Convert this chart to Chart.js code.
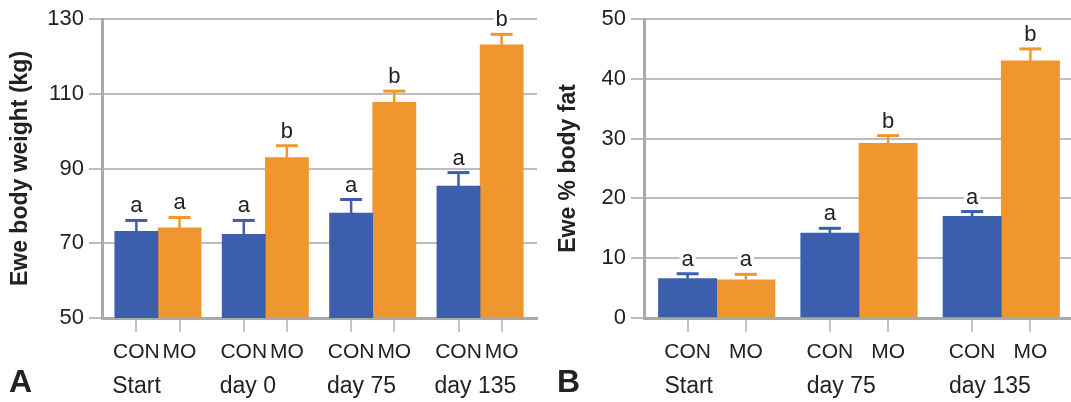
<!DOCTYPE html>
<html>
<head>
<meta charset="utf-8">
<script src="https://cdn.jsdelivr.net/npm/chart.js@4.4.1/dist/chart.umd.min.js"></script>
<style>
  html, body { margin: 0; padding: 0; background: #fff; }
  #wrap { position: relative; width: 1071px; height: 402px; }
  .panel { position: absolute; top: 0; height: 402px; }
</style>
</head>
<body>
<div id="wrap">
  <div class="panel" style="left:0;width:540px"><canvas id="chartA"></canvas></div>
  <div class="panel" style="left:540px;width:531px"><canvas id="chartB"></canvas></div>
</div>
<script>
// panel A - body weight
const treatments = ["CON", "MO"];
const groupsA = ["Start", "day 0", "day 75", "day 135"];
const conWeight = [73.2, 72.4, 78.1, 85.3];
const conWeightErr = [2.9, 3.7, 3.6, 3.6];
const moWeight = [74.1, 92.9, 107.7, 123.1];
const moWeightErr = [2.8, 3.2, 3.0, 2.8];
const conWeightSig = ["a", "a", "a", "a"];
const moWeightSig = ["a", "b", "b", "b"];
const weightTicks = [50, 70, 90, 110, 130];

// panel B - body fat
const groupsB = ["Start", "day 75", "day 135"];
const conFat = [6.6, 14.2, 17.0];
const conFatErr = [0.8, 0.8, 0.8];
const moFat = [6.4, 29.2, 43.0];
const moFatErr = [0.9, 1.3, 2.0];
const conFatSig = ["a", "a", "a"];
const moFatSig = ["a", "b", "b"];
const fatTicks = [0, 10, 20, 30, 40, 50];

const BLUE = "#3b5fad";
const ORANGE = "#f0962f";
const FONT = '"Liberation Sans", Arial, Helvetica, sans-serif';
Chart.defaults.font.family = FONT;
Chart.defaults.color = "#222";

const errorBars = {
    id: "errorBars",
    afterDatasetsDraw(chart) {
        const ctx = chart.ctx, y = chart.scales.y;
        ctx.save();
        chart.data.datasets.forEach((ds, d) => {
            chart.getDatasetMeta(d).data.forEach((bar, i) => {
                const top = y.getPixelForValue(ds.data[i].y + ds.err[i]);
                ctx.strokeStyle = ds.backgroundColor;
                ctx.lineWidth = 2.5;
                ctx.beginPath();
                ctx.moveTo(bar.x, bar.y);
                ctx.lineTo(bar.x, top);
                ctx.stroke();
                ctx.lineWidth = 3;
                ctx.beginPath();
                ctx.moveTo(bar.x - 11, top);
                ctx.lineTo(bar.x + 11, top);
                ctx.stroke();
                // significance letter, knocked out of the gridlines
                ctx.font = "22px " + FONT;
                const w = ctx.measureText(ds.sig[i]).width;
                ctx.fillStyle = "#fff";
                ctx.fillRect(bar.x - w / 2 - 2, top - 25, w + 4, 18);
                ctx.fillStyle = "#222";
                ctx.textAlign = "center";
                ctx.textBaseline = "alphabetic";
                ctx.fillText(ds.sig[i], bar.x, top - 8);
            });
        });
        ctx.restore();
    }
};

const groupLabels = {
    id: "groupLabels",
    afterDraw(chart, args, opts) {
        const ctx = chart.ctx, x = chart.scales.x;
        ctx.save();
        ctx.fillStyle = "#222";
        ctx.textAlign = "left";
        ctx.textBaseline = "alphabetic";
        ctx.font = "23px " + FONT;
        opts.labels.forEach((g, i) => {
            ctx.fillText(g, x.getPixelForValue(i - opts.half) + opts.shift, 393);
        });
        ctx.font = "bold 32px " + FONT;
        ctx.fillText(opts.panel, opts.panelX, 392);
        ctx.restore();
    }
};

function makeChart(id, o) {
    const pct = o.catPct, off = pct / 4;
    const yt = o.yTicks;
    return new Chart(document.getElementById(id), {
        type: "bar",
        data: {
            datasets: [
                { label: treatments[0], data: o.con.map((v, i) => ({ x: i, y: v })),
                  backgroundColor: BLUE, err: o.conErr, sig: o.conSig },
                { label: treatments[1], data: o.mo.map((v, i) => ({ x: i, y: v })),
                  backgroundColor: ORANGE, err: o.moErr, sig: o.moSig }
            ]
        },
        options: {
            responsive: true,
            maintainAspectRatio: false,
            animation: false,
            layout: { padding: { left: 0, top: 19, right: o.padRight, bottom: 0 } },
            datasets: { bar: { categoryPercentage: pct, barPercentage: 1, barThickness: "flex" } },
            plugins: {
                legend: { display: false },
                tooltip: { enabled: false },
                groupLabels: { labels: o.groups, half: pct / 2, shift: o.shift, panel: o.panel, panelX: o.panelX }
            },
            scales: {
                x: {
                    type: "linear", min: o.xMin, max: o.xMax, offset: false,
                    afterBuildTicks: s => {
                        s.ticks = [];
                        o.groups.forEach((g, i) => s.ticks.push({ value: i - off }, { value: i + off }));
                    },
                    afterFit: s => { s.height = 84; },
                    ticks: { autoSkip: false, maxRotation: 0, font: { size: 21 }, padding: 8,
                             callback: (v, i) => treatments[i % 2] },
                    grid: { offset: false, drawOnChartArea: false, drawTicks: true, tickLength: 14,
                            color: "#c4c4c4", lineWidth: 2 },
                    border: { display: true, color: "#a9a9a9", width: 3 }
                },
                y: {
                    min: yt[0], max: yt[yt.length - 1],
                    ticks: { stepSize: yt[1] - yt[0], font: { size: 22 }, padding: 5 },
                    afterFit: s => { s.width = o.axisX; },
                    grid: { color: "#bdbdbd", lineWidth: 2, tickLength: 13 },
                    border: { color: "#a9a9a9", width: 3 },
                    title: { display: true, text: o.yTitle, font: { size: 23, weight: "bold" },
                             padding: { top: o.titlePad, bottom: 0 } }
                }
            }
        },
        plugins: [errorBars, groupLabels]
    });
}

makeChart("chartA", {
    groups: groupsA, con: conWeight, conErr: conWeightErr, conSig: conWeightSig,
    mo: moWeight, moErr: moWeightErr, moSig: moWeightSig, yTicks: weightTicks,
    yTitle: "Ewe body weight (kg)", catPct: 0.804, xMin: -0.521, xMax: 3.53,
    axisX: 102, padRight: 3, titlePad: 7, shift: -2.5, panel: "A", panelX: 9
});
makeChart("chartB", {
    groups: groupsB, con: conFat, conErr: conFatErr, conSig: conFatSig,
    mo: moFat, moErr: moFatErr, moSig: moFatSig, yTicks: fatTicks,
    yTitle: "Ewe % body fat", catPct: 0.819, xMin: -0.511, xMax: 2.49,
    axisX: 104, padRight: 0, titlePad: 14.5, shift: 6, panel: "B", panelX: 17
});
</script>
</body>
</html>
